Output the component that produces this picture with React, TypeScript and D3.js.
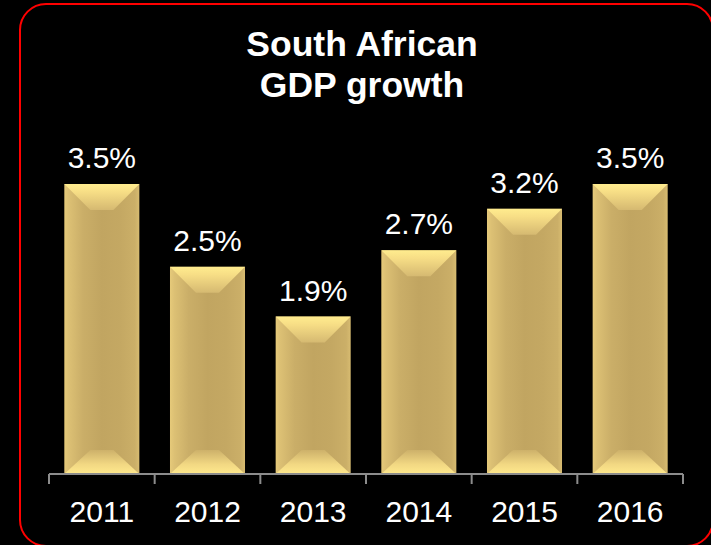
import React from "react";
import * as d3 from "d3";

const years = ["2011", "2012", "2013", "2014", "2015", "2016"];
const growth = [3.5, 2.5, 1.9, 2.7, 3.2, 3.5];
const titleLines = ["South African", "GDP growth"];

const W = 711;
const H = 545;
const axisY = 474;
const bevelX = 26;
const bevelTop = 26;
const bevelBot = 24;

export default function App() {
  const x = d3.scaleBand<string>().domain(years).range([49, 683]).paddingInner(0.29).paddingOuter(0.145);
  const y = d3.scaleLinear().domain([0, 3.5]).range([axisY, 184]);
  const bw = x.bandwidth();
  const half = (x.step() * x.paddingInner()) / 2;
  const tickXs = years.map((yr) => (x(yr) as number) - half).concat([683]);

  return (
    <svg
      width={W}
      height={H}
      style={{ position: "absolute", left: 0, top: 0, display: "block" }}
      fontFamily="Arial, 'Liberation Sans', sans-serif"
    >
      <defs>
        <linearGradient id="face" x1="0" y1="0" x2="1" y2="0">
          <stop offset="0" stopColor="#E6CA7A" />
          <stop offset="0.06" stopColor="#DCC074" />
          <stop offset="0.25" stopColor="#CAAE68" />
          <stop offset="0.5" stopColor="#C1A561" />
          <stop offset="0.75" stopColor="#C4A863" />
          <stop offset="0.94" stopColor="#CBAF68" />
          <stop offset="1" stopColor="#D8BC71" />
        </linearGradient>
        <linearGradient id="topBevel" x1="0" y1="0" x2="0" y2="1">
          <stop offset="0" stopColor="#FFEC8E" />
          <stop offset="0.3" stopColor="#F7DE86" />
          <stop offset="1" stopColor="#D5B971" />
        </linearGradient>
        <linearGradient id="botBevel" x1="0" y1="0" x2="0" y2="1">
          <stop offset="0" stopColor="#CDB16A" />
          <stop offset="0.6" stopColor="#F2D883" />
          <stop offset="1" stopColor="#FFE98D" />
        </linearGradient>
      </defs>

      <rect x={0} y={0} width={W} height={H} fill="#000" />
      <rect x={20} y={4} width={693} height={542} rx={26} ry={26} fill="none" stroke="#FF0000" strokeWidth={2} />

      {titleLines.map((t, i) => (
        <text key={t} x={362} y={56 + i * 41} textAnchor="middle" fill="#fff" fontWeight="bold" fontSize={35.5}>
          {t}
        </text>
      ))}

      {years.map((yr, i) => {
        const x0 = x(yr) as number;
        const x1 = x0 + bw;
        const y0 = y(growth[i]);
        const y1 = y(0);
        const pts = (a: number[][]) => a.map((p) => p.join(",")).join(" ");
        return (
          <g key={yr}>
            <rect x={x0} y={y0} width={bw} height={y1 - y0} fill="url(#face)" />
            <polygon
              points={pts([[x0, y0], [x1, y0], [x1 - bevelX, y0 + bevelTop], [x0 + bevelX, y0 + bevelTop]])}
              fill="url(#topBevel)"
            />
            <polygon
              points={pts([[x0, y1], [x1, y1], [x1 - bevelX, y1 - bevelBot], [x0 + bevelX, y1 - bevelBot]])}
              fill="url(#botBevel)"
            />
            <text x={x0 + bw / 2} y={y0 - 16} textAnchor="middle" fill="#fff" fontSize={30}>
              {growth[i].toFixed(1)}%
            </text>
            <text x={x0 + bw / 2} y={522} textAnchor="middle" fill="#fff" fontSize={30}>
              {yr}
            </text>
          </g>
        );
      })}

      <line x1={tickXs[0]} x2={tickXs[tickXs.length - 1]} y1={axisY} y2={axisY} stroke="#8C8C8C" strokeWidth={2} />
      {tickXs.map((tx, i) => (
        <line key={i} x1={tx} x2={tx} y1={axisY} y2={axisY + 10} stroke="#8C8C8C" strokeWidth={2} />
      ))}
    </svg>
  );
}
